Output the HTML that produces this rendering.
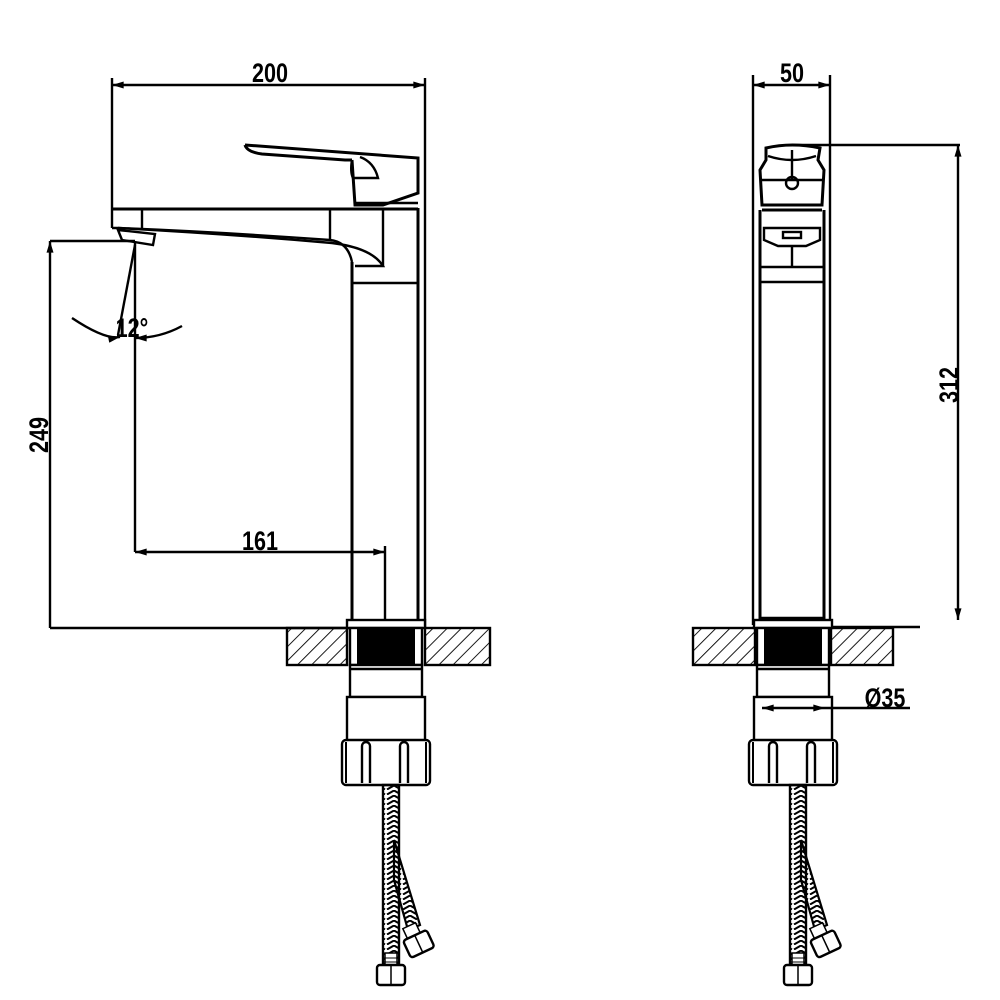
<!DOCTYPE html>
<html><head><style>
html,body{margin:0;padding:0;background:#fff}
svg{display:block}
text{font-family:"Liberation Sans",sans-serif;font-size:27px;font-weight:bold;fill:#000}
</style></head><body>
<svg width="1000" height="1000" viewBox="0 0 1000 1000" xmlns="http://www.w3.org/2000/svg">
<defs>
<pattern id="hatch" patternUnits="userSpaceOnUse" width="10" height="10" patternTransform="rotate(45)">
<line x1="0" y1="0" x2="0" y2="10" stroke="#000" stroke-width="1.8"/>
</pattern>
<pattern id="braid" patternUnits="userSpaceOnUse" width="16" height="5">
<path d="M1 4.5 L8 0.5 L15 4.5" fill="none" stroke="#000" stroke-width="2"/>
</pattern>
<marker id="ar" viewBox="0 0 10 6" refX="10" refY="3" markerWidth="16" markerHeight="7" markerUnits="userSpaceOnUse" orient="auto-start-reverse">
<path d="M0 0 L10 3 L0 6 Z" fill="#000"/>
</marker>
<g id="base">
<rect x="-39" y="620" width="78" height="8" fill="#fff" stroke="#000" stroke-width="2.4"/>
<rect x="-36" y="628" width="72" height="37" fill="#fff" stroke="#000" stroke-width="2.4"/>
<rect x="-29" y="629" width="58" height="35" fill="#000"/>
<rect x="-36" y="665" width="72" height="32" fill="#fff" stroke="#000" stroke-width="2.4"/>
<line x1="-36" y1="669" x2="36" y2="669" stroke="#000" stroke-width="2.4"/>
<rect x="-39" y="697" width="78" height="45" fill="#fff" stroke="#000" stroke-width="2.4"/>
<rect x="-44" y="740" width="88" height="45" rx="4" fill="#fff" stroke="#000" stroke-width="2.4"/>
<path d="M-40 742 V783 M40 742 V783" stroke="#000" stroke-width="2" fill="none"/>
<path d="M-24 783 V746 a4 4 0 0 1 8 0 V783 M14 783 V746 a4 4 0 0 1 8 0 V783" stroke="#000" stroke-width="2.4" fill="none"/>
<path d="M8 840 L34 925 L22 930 L8 880 Z" fill="url(#braid)" stroke="#000" stroke-width="2.2"/>
<rect x="-3" y="785" width="16" height="180" fill="url(#braid)" stroke="#000" stroke-width="2.4"/>
<rect x="-1" y="953" width="12" height="12" fill="#fff" stroke="#000" stroke-width="1.5"/>
<path d="M-2 958 H12 M-2 962 H12" stroke="#000" stroke-width="1"/>
<rect x="-9" y="965" width="28" height="20" rx="3" fill="#fff" stroke="#000" stroke-width="2.4"/>
<path d="M5 965 V985" stroke="#000" stroke-width="1.5"/>
<g transform="translate(30,938) rotate(-25)">
<rect x="-8" y="-14" width="14" height="12" fill="#fff" stroke="#000" stroke-width="1.5"/>
<rect x="-13" y="-3" width="26" height="19" rx="3" fill="#fff" stroke="#000" stroke-width="2.4"/>
<path d="M0 -3 V16" stroke="#000" stroke-width="1.5"/>
</g>
</g>
</defs>

<g fill="none" stroke="#000" stroke-width="2.4">
<line x1="112" y1="85" x2="425" y2="85" marker-start="url(#ar)" marker-end="url(#ar)"/>
<line x1="112" y1="78" x2="112" y2="228"/>
<line x1="425" y1="78" x2="425" y2="628"/>
<line x1="352" y1="262" x2="352" y2="620" stroke-width="3"/>
<line x1="418" y1="208" x2="418" y2="620" stroke-width="3"/>
<line x1="352" y1="283" x2="418" y2="283"/>
<line x1="112" y1="209" x2="418" y2="209" stroke-width="3"/>
<line x1="142" y1="209" x2="142" y2="230"/>
<line x1="330" y1="209" x2="330" y2="240"/>
<line x1="383" y1="209" x2="383" y2="266"/>
<path d="M112 228 L118 228 Q220 232 330 240 Q348 242 352 262"/>
<path d="M118 228 Q230 234 332 243 Q372 248 383 266 L355 266"/>
<path d="M118 230 L155 234 L153 245 L122 240 Z"/>
<path d="M245 145 Q247 152 262 154 L345 160 L352 160" stroke-width="3"/>
<path d="M245 145 L418 158 L418 193 L383 205 L355 205 L352 160" stroke-width="3"/>
<path d="M352 160 Q350 172 353 178 L378 178 Q374 162 360 157"/>
<line x1="355" y1="203" x2="418" y2="203"/>
<line x1="50" y1="241" x2="135" y2="241"/>
<line x1="50" y1="628" x2="50" y2="241" marker-end="url(#ar)"/>
<line x1="50" y1="628" x2="350" y2="628"/>
<line x1="135" y1="241" x2="135" y2="552"/>
<line x1="135" y1="245" x2="118" y2="335"/>
<path d="M72 318 Q105 340 120 337" marker-end="url(#ar)"/>
<path d="M182 326 Q160 338 135 338" marker-end="url(#ar)"/>
<line x1="135" y1="552" x2="385" y2="552" marker-start="url(#ar)" marker-end="url(#ar)"/>
<line x1="385" y1="546" x2="385" y2="630"/>
<rect x="287" y="628" width="60" height="37" fill="url(#hatch)"/>
<rect x="425" y="628" width="65" height="37" fill="url(#hatch)"/>

<line x1="753" y1="85" x2="830" y2="85" marker-start="url(#ar)" marker-end="url(#ar)"/>
<line x1="753" y1="75" x2="753" y2="625"/>
<line x1="830" y1="75" x2="830" y2="625"/>
<line x1="760" y1="210" x2="760" y2="620" stroke-width="3"/>
<line x1="824" y1="210" x2="824" y2="620" stroke-width="3"/>
<line x1="760" y1="267" x2="824" y2="267"/>
<line x1="760" y1="282" x2="824" y2="282"/>
<line x1="760" y1="618" x2="824" y2="618"/>
<path d="M766 148 Q792 142 820 148 L818 160 L824 170 L822 205 L762 205 L760 170 L766 160 Z" stroke-width="3"/>
<path d="M768 156 Q792 164 816 156"/>
<line x1="760" y1="180" x2="824" y2="180"/>
<line x1="792" y1="150" x2="792" y2="180"/>
<circle cx="792" cy="183" r="6"/>
<line x1="762" y1="210" x2="822" y2="210" stroke-width="3"/>
<path d="M764 228 L820 228 L820 240 L806 246 L778 246 L764 240 Z"/>
<rect x="783" y="232" width="18" height="6"/>
<line x1="792" y1="246" x2="792" y2="267"/>
<line x1="792" y1="145" x2="960" y2="145"/>
<line x1="958" y1="145" x2="958" y2="620" marker-start="url(#ar)" marker-end="url(#ar)"/>
<line x1="830" y1="627" x2="920" y2="627"/>
<rect x="693" y="628" width="62" height="37" fill="url(#hatch)"/>
<rect x="831" y="628" width="62" height="37" fill="url(#hatch)"/>
</g>

<use href="#base" x="386" y="0"/>
<use href="#base" x="793" y="0"/>

<g fill="none" stroke="#000" stroke-width="2.4">
<line x1="762" y1="708" x2="825" y2="708" marker-start="url(#ar)" marker-end="url(#ar)"/>
<line x1="825" y1="708" x2="910" y2="708"/>
</g>

<g>
<text x="270" y="82" text-anchor="middle" transform="translate(270 0) scale(0.8 1) translate(-270 0)">200</text>
<text x="792" y="82" text-anchor="middle" transform="translate(792 0) scale(0.8 1) translate(-792 0)">50</text>
<text x="260" y="550" text-anchor="middle" transform="translate(260 0) scale(0.8 1) translate(-260 0)">161</text>
<text x="132" y="337" text-anchor="middle" transform="translate(132 0) scale(0.8 1) translate(-132 0)">12°</text>
<text x="885" y="707" text-anchor="middle" transform="translate(885 0) scale(0.8 1) translate(-885 0)">Ø35</text>
<text transform="translate(48 435) rotate(-90) scale(0.8 1)" text-anchor="middle">249</text>
<text transform="translate(958 385) rotate(-90) scale(0.8 1)" text-anchor="middle">312</text>
</g>
</svg>
</body></html>
